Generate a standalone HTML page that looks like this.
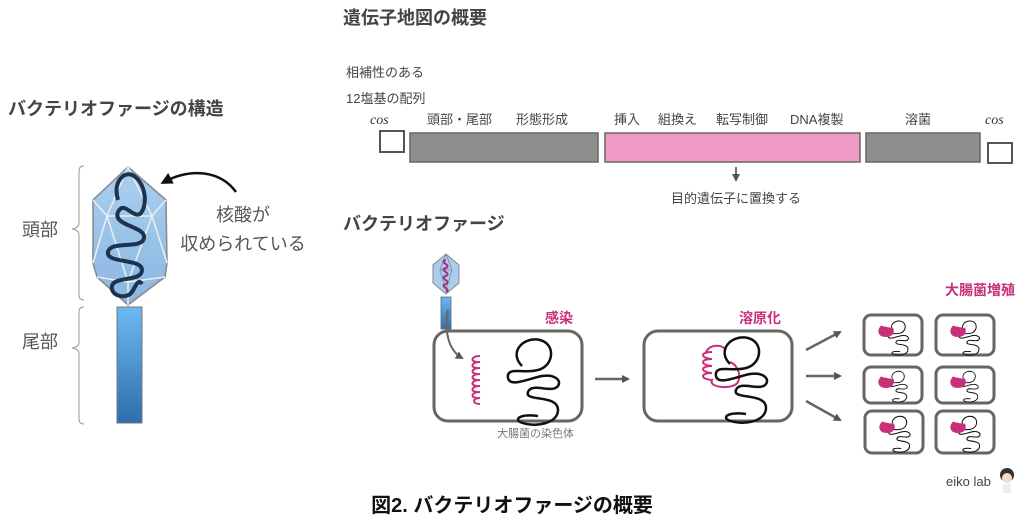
<!DOCTYPE html>
<html><head><meta charset="utf-8"><style>
html,body{margin:0;padding:0;background:#fff;}
svg{display:block;font-family:"Liberation Sans","Noto Sans CJK JP",sans-serif;}
</style></head><body>
<svg width="1024" height="523" viewBox="0 0 1024 523" xmlns="http://www.w3.org/2000/svg">
<defs>
<linearGradient id="tail" x1="0" y1="0" x2="0" y2="1"><stop offset="0" stop-color="#6cb9f2"/><stop offset="1" stop-color="#2e6eae"/></linearGradient>
<linearGradient id="head" x1="0" y1="0" x2="0" y2="1"><stop offset="0" stop-color="#aad0f0"/><stop offset="1" stop-color="#8ab6e0"/></linearGradient>
<marker id="ah" markerWidth="8" markerHeight="8" refX="6" refY="4" orient="auto" markerUnits="userSpaceOnUse"><path d="M0,0 L8,4 L0,8 z" fill="#555"/></marker>
<marker id="ahb" markerWidth="12" markerHeight="12" refX="8" refY="6" orient="auto" markerUnits="userSpaceOnUse"><path d="M0,0 L12,6 L0,12 z" fill="#111"/></marker>
<g id="chr" fill="none" stroke="#111" stroke-width="2.5">
<path d="M-6,-6 C-20,-20 -4,-36 12,-32 C28,-28 26,-6 10,-2 C-4,2 -22,-6 -20,6 C-18,16 2,6 14,4 C26,2 34,8 30,14 C24,22 4,10 0,20 C-4,30 30,22 30,38 C30,52 6,56 -8,50 C-14,46 -6,42 10,44"/>
</g>
<g id="pch" fill="none" stroke="#c8307a" stroke-width="2">
<path d="M0,0 c-10,0 -10,7 0,6 c-10,0 -10,7 0,6 c-10,0 -10,7 0,6 c-10,0 -10,7 0,6 c-10,0 -10,7 0,6 c-10,0 -10,7 0,6 c-10,0 -10,7 0,6 c-8,0 -8,6 0,6"/>
</g>
</defs>

<!-- LEFT -->
<text x="8" y="115" font-size="18" font-weight="bold" fill="#444">バクテリオファージの構造</text>
<path d="M84,166 q-5,0 -5,5 v52 q0,5 -7,6 q7,1 7,6 v60 q0,5 5,5" fill="none" stroke="#999" stroke-width="1"/>
<path d="M84,307 q-5,0 -5,5 v30 q0,5 -7,6 q7,1 7,6 v65 q0,5 5,5" fill="none" stroke="#999" stroke-width="1"/>
<text x="22" y="236" font-size="18" fill="#555">頭部</text>
<text x="22" y="348" font-size="18" fill="#555">尾部</text>
<polygon points="128,167 166,200 167,263 165,277 128,305 97,277 93,263 93,200" fill="url(#head)" stroke="#888" stroke-width="1.5"/>
<g stroke="#eee" stroke-width="1.5" fill="none">
<path d="M128,167 L107,216 L152,216 L128,167 M93,200 L107,216 M166,200 L152,216 M107,216 L128,282 L152,216 M93,263 L107,216 M167,263 L152,216 M97,277 L128,282 L165,277 M128,282 L128,305"/>
</g>
<path d="M118,200 C112,180 126,170 134,176 C146,184 148,206 140,214 C132,218 124,200 118,212 C112,226 146,226 144,238 C142,250 110,240 108,252 C106,264 142,258 142,270 C142,282 114,276 112,286 C110,296 126,300 132,292 C136,286 138,278 142,284" fill="none" stroke="#1c3450" stroke-width="4"/>
<rect x="117" y="307" width="25" height="116" fill="url(#tail)" stroke="#777" stroke-width="1"/>
<path d="M236,192 C220,170 190,168 164,182" fill="none" stroke="#111" stroke-width="2.5" marker-end="url(#ahb)"/>
<text x="243" y="221" font-size="18" fill="#555" text-anchor="middle">核酸が</text>
<text x="243" y="250" font-size="18" fill="#555" text-anchor="middle">収められている</text>

<!-- TOP -->
<text x="343" y="24" font-size="18" font-weight="bold" fill="#444">遺伝子地図の概要</text>
<text x="346" y="77" font-size="13" fill="#444">相補性のある</text>
<text x="346" y="103" font-size="13" fill="#444">12塩基の配列</text>
<text x="370" y="124" font-size="14" font-style="italic" font-family="Liberation Serif,serif" fill="#333">cos</text>
<text x="985" y="124" font-size="14" font-style="italic" font-family="Liberation Serif,serif" fill="#333">cos</text>
<rect x="380" y="131" width="24" height="21" fill="#fff" stroke="#555" stroke-width="2"/>
<rect x="988" y="143" width="24" height="20" fill="#fff" stroke="#555" stroke-width="2"/>
<rect x="410" y="133" width="188" height="29" fill="#8f8f8f" stroke="#666" stroke-width="1.5"/>
<rect x="605" y="133" width="255" height="29" fill="#f29ac6" stroke="#666" stroke-width="1.5"/>
<rect x="866" y="133" width="114" height="29" fill="#8f8f8f" stroke="#666" stroke-width="1.5"/>
<g font-size="13" fill="#444">
<text x="427" y="124">頭部・尾部</text><text x="516" y="124">形態形成</text>
<text x="614" y="124">挿入</text><text x="658" y="124">組換え</text><text x="716" y="124">転写制御</text><text x="790" y="124">DNA複製</text>
<text x="905" y="124">溶菌</text>
</g>
<line x1="736" y1="167" x2="736" y2="180" stroke="#444" stroke-width="1.5" marker-end="url(#ah)"/>
<text x="736" y="203" font-size="13" fill="#444" text-anchor="middle">目的遺伝子に置換する</text>

<!-- BOTTOM -->
<text x="343" y="230" font-size="18" font-weight="bold" fill="#444">バクテリオファージ</text>
<polygon points="446,254 459,265 459,283 446,294 433,283 433,265" fill="#a8cdee" stroke="#888" stroke-width="1"/>
<path d="M446,254 L440,270 L452,270 Z M440,270 L446,290 L452,270" fill="none" stroke="#888" stroke-width="0.8"/>
<path d="M446,260 c-8,2 6,5 0,8 c-8,2 6,5 0,8 c-8,2 6,5 0,8 c-8,2 6,5 0,8" fill="none" stroke="#a03080" stroke-width="2"/>
<rect x="441" y="297" width="10" height="32" fill="url(#tail)" stroke="#666" stroke-width="0.8"/>
<rect x="434" y="331" width="148" height="90" rx="14" fill="#fff" stroke="#666" stroke-width="3"/>
<path d="M448,310 C444,330 448,350 462,358" fill="none" stroke="#666" stroke-width="2" marker-end="url(#ah)"/>
<use href="#pch" x="480" y="356"/>
<use href="#chr" x="528" y="372"/>
<text x="545" y="323" font-size="14" font-weight="bold" fill="#c8307a">感染</text>
<text x="497" y="437" font-size="11" fill="#777">大腸菌の染色体</text>
<line x1="595" y1="379" x2="628" y2="379" stroke="#666" stroke-width="2.5" marker-end="url(#ah)"/>
<rect x="644" y="331" width="148" height="90" rx="14" fill="#fff" stroke="#666" stroke-width="3"/>
<text x="739" y="323" font-size="14" font-weight="bold" fill="#c8307a">溶原化</text>
<path d="M712,352 c-12,0 -12,6 0,7 c-12,0 -12,6 0,7 c-12,0 -12,6 0,7 c-12,0 -12,6 0,7 c-4,8 22,10 26,2 c4,-8 -2,-18 -8,-20 M706,352 c4,-8 16,-8 20,-2" fill="none" stroke="#c8307a" stroke-width="2"/>
<use href="#chr" x="736" y="370"/>
<line x1="806" y1="350" x2="840" y2="332" stroke="#666" stroke-width="2.5" marker-end="url(#ah)"/>
<line x1="806" y1="376" x2="840" y2="376" stroke="#666" stroke-width="2.5" marker-end="url(#ah)"/>
<line x1="806" y1="401" x2="840" y2="420" stroke="#666" stroke-width="2.5" marker-end="url(#ah)"/>
<text x="945" y="295" font-size="14" font-weight="bold" fill="#c8307a">大腸菌増殖</text>
<g fill="#fff" stroke="#666" stroke-width="3">
<rect x="864" y="315" width="58" height="40" rx="7"/><rect x="936" y="315" width="58" height="40" rx="7"/>
<rect x="864" y="367" width="58" height="36" rx="7"/><rect x="936" y="367" width="58" height="36" rx="7"/>
<rect x="865" y="411" width="58" height="42" rx="7"/><rect x="936" y="411" width="58" height="42" rx="7"/>
</g>
<g>
<g transform="translate(896,334) scale(0.4)"><use href="#chr"/></g><path d="M882,326 c-4,4 -4,10 4,10 c6,0 8,-4 6,-8" fill="#c8307a" stroke="#c8307a" stroke-width="2"/>
<g transform="translate(967,334) scale(0.4)"><use href="#chr"/></g><path d="M954,326 c-4,4 -4,10 4,10 c6,0 8,-4 6,-8" fill="#c8307a" stroke="#c8307a" stroke-width="2"/>
<g transform="translate(896,383) scale(0.36)"><use href="#chr"/></g><path d="M882,377 c-4,4 -4,10 4,10 c6,0 8,-4 6,-8" fill="#c8307a" stroke="#c8307a" stroke-width="2"/>
<g transform="translate(967,383) scale(0.36)"><use href="#chr"/></g><path d="M954,377 c-4,4 -4,10 4,10 c6,0 8,-4 6,-8" fill="#c8307a" stroke="#c8307a" stroke-width="2"/>
<g transform="translate(897,430) scale(0.42)"><use href="#chr"/></g><path d="M883,422 c-4,4 -4,10 4,10 c6,0 8,-4 6,-8" fill="#c8307a" stroke="#c8307a" stroke-width="2"/>
<g transform="translate(967,430) scale(0.42)"><use href="#chr"/></g><path d="M954,422 c-4,4 -4,10 4,10 c6,0 8,-4 6,-8" fill="#c8307a" stroke="#c8307a" stroke-width="2"/>
</g>
<text x="946" y="486" font-size="13" fill="#444">eiko lab</text>
<circle cx="1007" cy="475" r="7" fill="#333"/><circle cx="1007" cy="478" r="5" fill="#f5dcc8"/><rect x="1003" y="484" width="8" height="9" fill="#e8eef4"/>
<text x="512" y="512" font-size="20" font-weight="bold" fill="#111" text-anchor="middle">図2. バクテリオファージの概要</text>
</svg>
</body></html>
